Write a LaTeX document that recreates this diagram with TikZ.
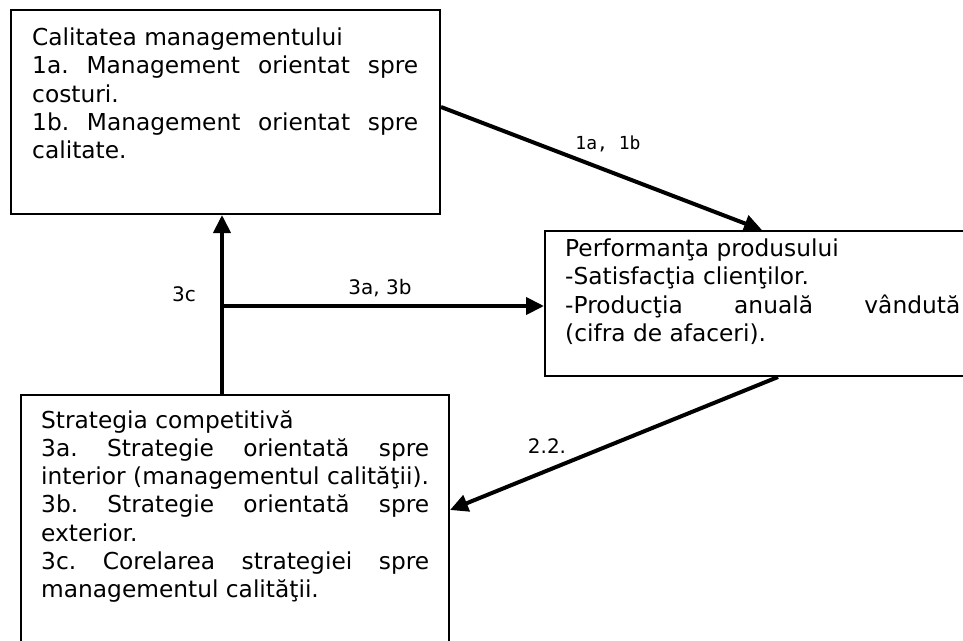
\documentclass[tikz,border=0pt]{standalone}
\usepackage{fontspec}
\setmainfont{DejaVu Sans}
\newfontfamily\labelmono{DejaVu Sans Mono}
\usetikzlibrary{arrows.meta,calc}

\begin{document}
\frenchspacing
\begin{tikzpicture}[x=1pt,y=-1pt,
  box/.style={draw, line width=2pt, inner sep=0pt, anchor=north west},
  boxtext/.style={anchor=north west, inner sep=0pt, align=justify,
    font=\fontsize{23.3}{28.3}\selectfont,
    execute at begin node={\setlength{\parindent}{0pt}\hyphenpenalty=10000}},
  link/.style={line width=4pt, -{Triangle[length=18pt,width=17pt]}},
  lbl/.style={font=\fontsize{20}{22}\selectfont, inner sep=0pt, anchor=base},
  lblmono/.style={font=\labelmono\fontsize{18}{22}\selectfont, inner sep=0pt, anchor=base}]
\useasboundingbox (0,0) rectangle (963,640);

% the three boxes
\node[box, minimum width=429pt, minimum height=204pt] (b1) at (10,9) {};
\node[box, minimum width=424pt, minimum height=145pt] (b2) at (544,230) {};
\node[box, minimum width=428pt, minimum height=256pt] (b3) at (20,394) {};

% box contents
\node[boxtext, text width=386pt] (t1) at (32,27.5) {%
Calitatea managementului\\
1a. Management orientat spre\linebreak costuri.\\
1b. Management orientat spre\linebreak calitate.};

\node[boxtext, text width=395pt] (t2) at (565,238.5) {%
Performanţa produsului\\
-Satisfacţia clienţilor.\\
-Producţia anuală vândută\linebreak (cifra de afaceri).};

\node[boxtext, text width=388pt] (t3) at (41,410) {%
Strategia competitivă\\
3a. Strategie orientată spre\linebreak interior (managementul calităţii).\\
3b. Strategie orientată spre\linebreak exterior.\\
3c. Corelarea strategiei spre\linebreak managementul calităţii.};

% connectors
\draw[link] ($(b1.north east)+(0,98)$) -- ($(b2.north west)+(218,0)$);
\coordinate (j) at (222,306);
\draw[link] (j |- b3.north) -- (j |- b1.south);
\draw[link] (j) -- (j -| b2.west);
\draw[link] ($(b2.south west)+(234,0)$) -- ($(b3.north east)+(0,116)$);

% connector labels
\node[lblmono] (l1) at (608,149) {1a, 1b};
\node[lbl] (l2) at (380,294) {3a, 3b};
\node[lbl] (l3) at (184,301) {3c};
\node[lbl] (l4) at (547,453) {2.2.};
\end{tikzpicture}
\end{document}
